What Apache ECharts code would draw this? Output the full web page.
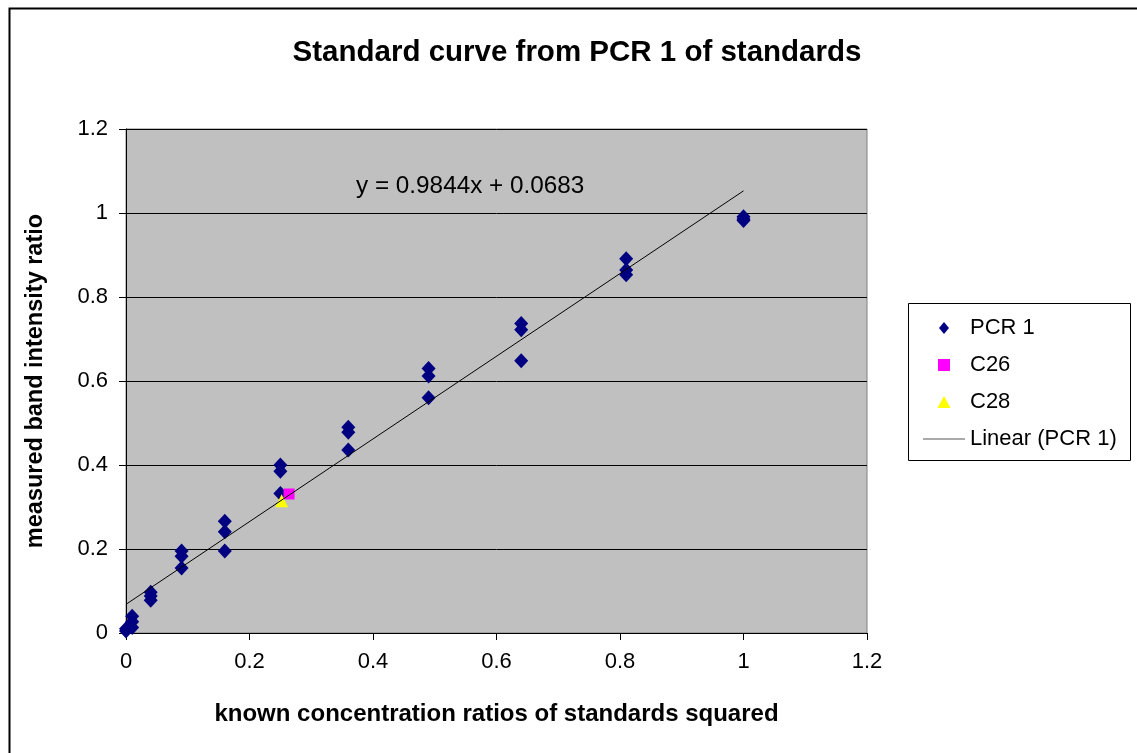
<!DOCTYPE html>
<html>
<head>
<meta charset="utf-8">
<script src="https://cdn.jsdelivr.net/npm/echarts@6/dist/echarts.min.js"></script>
<style>
  html, body { margin: 0; padding: 0; background: #fff; }
  #chart { width: 1137px; height: 753px; }
</style>
</head>
<body>
<div id="chart"></div>
<script>
// standards: known ratio squared vs measured band intensity ratio
const pcr1X = [0, 0, 0.01, 0.01, 0.01,
  0.04, 0.04, 0.04,
  0.09, 0.09, 0.09,
  0.16, 0.16, 0.16,
  0.25, 0.25, 0.25,
  0.36, 0.36, 0.36,
  0.49, 0.49, 0.49,
  0.64, 0.64, 0.64,
  0.81, 0.81, 0.81,
  1, 1, 1];
const pcr1Y = [0.005, 0.01, 0.04, 0.027, 0.013,
  0.097, 0.088, 0.078,
  0.195, 0.183, 0.155,
  0.266, 0.241, 0.195,
  0.4, 0.385, 0.332,
  0.49, 0.478, 0.436,
  0.63, 0.612, 0.56,
  0.737, 0.722, 0.648,
  0.891, 0.864, 0.853,
  0.991, 0.986, 0.982];
const c26 = [[0.264, 0.331]];
const c28 = [[0.252, 0.315]];
const trendSlope = 0.9844;
const trendIntercept = 0.0683;
const trendRange = [0, 1];

const font = '"Liberation Sans", Arial, sans-serif';
const chart = echarts.init(document.getElementById('chart'));

const pcr1 = pcr1X.map((x, i) => [x, pcr1Y[i]]);
const trend = trendRange.map(x => [x, trendSlope * x + trendIntercept]);

// legend icons as paths so they keep their aspect inside the wide item box
const diamondIcon = 'path://M5,0L10,6L5,12L0,6Z';
const squareIcon = 'path://M0,0L10,0L10,10L0,10Z';
const triangleIcon = 'path://M6,0L12,11L0,11Z';
const lineIcon = 'path://M0,0L44,0L44,1L0,1Z';

chart.setOption({
  animation: false,
  textStyle: { fontFamily: font },
  title: {
    text: 'Standard curve from PCR 1 of standards',
    left: 572, top: 33, textAlign: 'center',
    textStyle: { fontSize: 29.5, fontWeight: 'bold', color: '#000', fontFamily: font }
  },
  graphic: [
    { type: 'rect', left: 7, top: 6, shape: { width: 1140, height: 760 },
      style: { fill: 'none', stroke: '#000', lineWidth: 2 }, silent: true },
    { type: 'rect', left: 908, top: 303, shape: { width: 222, height: 157 },
      style: { fill: '#fff', stroke: '#000', lineWidth: 1 }, silent: true, z: 0 },
    { type: 'text', left: 356, top: 174,
      style: { text: 'y = 0.9844x + 0.0683', fontSize: 24.3, fill: '#000', fontFamily: font } }
  ],
  legend: {
    orient: 'vertical',
    left: 918, top: 312,
    itemWidth: 42, itemHeight: 12,
    itemGap: 15,
    symbolKeepAspect: true,
    z: 5,
    textStyle: { fontSize: 22, color: '#000', fontFamily: font },
    data: [
      { name: 'PCR 1', icon: diamondIcon },
      { name: 'C26', icon: squareIcon },
      { name: 'C28', icon: triangleIcon },
      { name: 'Linear (PCR 1)', icon: lineIcon }
    ]
  },
  grid: { left: 126, top: 129, right: 270, bottom: 120,
    show: true, backgroundColor: '#C0C0C0', borderColor: '#808080', borderWidth: 1 },
  xAxis: {
    type: 'value', min: 0, max: 1.2, interval: 0.2,
    name: 'known concentration ratios of standards squared',
    nameLocation: 'middle', nameGap: 69,
    nameTextStyle: { fontSize: 24, fontWeight: 'bold', color: '#000', fontFamily: font },
    axisLine: { show: true, onZero: false, lineStyle: { color: '#000', width: 1 } },
    axisTick: { show: true, length: 7, lineStyle: { color: '#000' } },
    axisLabel: { fontSize: 22, color: '#000', margin: 18, fontFamily: font },
    splitLine: { show: false }
  },
  yAxis: {
    type: 'value', min: 0, max: 1.2, interval: 0.2,
    name: 'measured band intensity ratio',
    nameLocation: 'middle', nameGap: 78,
    nameTextStyle: { fontSize: 23.5, fontWeight: 'bold', color: '#000', fontFamily: font },
    axisLine: { show: true, onZero: false, lineStyle: { color: '#000', width: 1 } },
    axisTick: { show: true, length: 7, lineStyle: { color: '#000' } },
    axisLabel: { fontSize: 22, color: '#000', margin: 18, fontFamily: font },
    splitLine: { show: true, lineStyle: { color: '#000', width: 1 } }
  },
  series: [
    { name: 'PCR 1', type: 'scatter', data: pcr1, symbol: 'diamond', symbolSize: [14, 15],
      itemStyle: { color: '#000080', opacity: 1 }, z: 3 },
    { name: 'C26', type: 'scatter', data: c26, symbol: 'rect', symbolSize: 11,
      itemStyle: { color: '#FF00FF', opacity: 1 }, z: 4 },
    { name: 'C28', type: 'scatter', data: c28, symbol: 'triangle', symbolSize: 13,
      itemStyle: { color: '#FFFF00', opacity: 1 }, z: 5 },
    { name: 'Linear (PCR 1)', type: 'line', data: trend, symbol: 'none',
      itemStyle: { color: '#555' },
      lineStyle: { color: '#000', width: 1 }, z: 6 }
  ]
});
</script>
</body>
</html>
